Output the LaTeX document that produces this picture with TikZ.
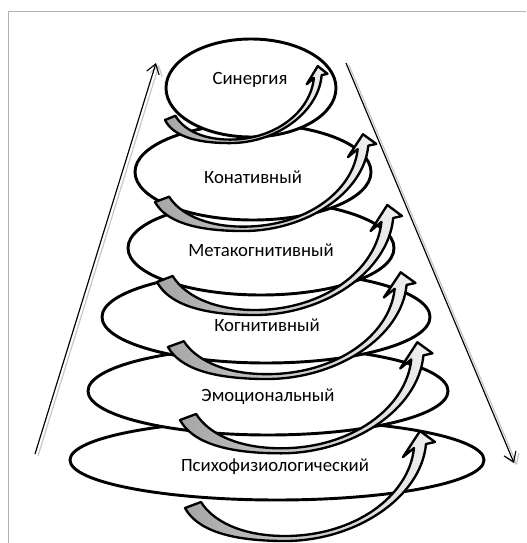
\documentclass[tikz,border=0pt]{standalone}
\usepackage{fontspec}
\setmainfont{Carlito}
\usetikzlibrary{arrows.meta}

\begin{document}
\begin{tikzpicture}[x=0.03cm, y=-0.03cm, font=\fontsize{16}{19}\selectfont,
		tier/.style={line width=2.5pt, fill=white},
		trend/.style={line width=1pt, -{Straight Barb[length=8pt, width=11pt]}},
		spiral/.pic={
			\draw[line width=2pt, line join=round, left color=gray!70, right color=gray!12]
				(0,0) .. controls (12,22) and (45,33) .. (100,33)
				.. controls (170,33) and (236,-10) .. (241,-64)
				-- (250,-66) -- (235,-77) -- (218,-51) -- (229,-60)
				.. controls (224,-12) and (170,28) .. (100,28)
				.. controls (55,28) and (27,12) .. (16,-6) -- cycle;}]
		\useasboundingbox (0,0) rectangle (526,543);
		% frame
		\draw[gray!60, line width=0.8pt] (8,543) -- (8,11) -- (526,11);
		% rising and falling arrows with their shadows
		\coordinate (lb) at (35,454);
		\coordinate (lt) at (156,63);
		\coordinate (rt) at (346,63);
		\coordinate (rb) at (514,463);
		\draw[trend, gray!45] ([shift={(3,2)}]lb) -- ([shift={(3,2)}]lt);
		\draw[trend] (lb) -- (lt);
		\draw[trend, gray!45] ([shift={(3,2)}]rt) -- ([shift={(3,2)}]rb);
		\draw[trend] (rt) -- (rb);
		% levels, from the bottom up
		\coordinate (c6) at (277,460);
		\draw[tier] (c6) ellipse [x radius=207, y radius=40];
		\node (psy) at (275,467) {Психофизиологический};
		\pic at (185,508) {spiral};
		\coordinate (c5) at (268,391);
		\draw[tier] (c5) ellipse [x radius=180, y radius=44];
		\node (emo) at (268,397) {Эмоциональный};
		\pic[xscale=1.01, yscale=1.01] at (180,420) {spiral};
		\coordinate (c4) at (266,317);
		\draw[tier] (c4) ellipse [x radius=164, y radius=46];
		\node (cog) at (267,325) {Когнитивный};
		\pic[xscale=0.99, yscale=0.97] at (168,347) {spiral};
		\coordinate (c3) at (261,248);
		\draw[tier] (c3) ellipse [x radius=133, y radius=47];
		\node (meta) at (261,250) {Метакогнитивный};
		\pic[xscale=0.98] at (157,282) {spiral};
		\coordinate (c2) at (253,172);
		\draw[tier] (c2) ellipse [x radius=118, y radius=48];
		\node (con) at (253,177) {Конативный};
		\pic[xscale=0.885, yscale=0.88] at (155,202) {spiral};
		\coordinate (c1) at (251,88);
		\draw[tier] (c1) ellipse [x radius=85, y radius=49];
		\node (syn) at (250,80) {Синергия};
		\pic[xscale=0.65, yscale=0.7] at (165,120) {spiral};
	\end{tikzpicture}
\end{document}
